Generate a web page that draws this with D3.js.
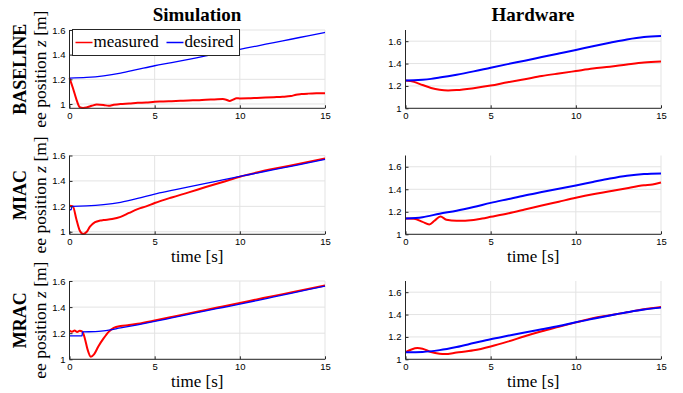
<!DOCTYPE html>
<html>
<head>
<meta charset="utf-8">
<script src="https://cdn.jsdelivr.net/npm/d3@7"></script>
<style>
	body { margin: 0; background: #fff; }
	svg text { fill: #000; }
</style>
</head>
<body>
<div id="chart"></div>
<script>
// ---- data ----
var rowNames = ['BASELINE', 'MIAC', 'MRAC'];
var colNames = ['Simulation', 'Hardware'];
var xTicks = [0, 5, 10, 15];
var yTicks = [1, 1.2, 1.4, 1.6];

// Simulation / BASELINE
var simBaseMeasT = [0, 0.2, 0.4, 0.6, 0.8, 1.0, 1.3, 1.6, 2.0, 2.3, 2.6, 3, 3.5, 4, 4.5, 5, 5.5, 6, 6.5, 7, 7.5, 8, 8.5, 9, 9.2, 9.4, 9.6, 9.8, 10, 10.5, 11, 11.5, 12, 12.5, 13, 13.3, 13.6, 14, 14.5, 15];
var simBaseMeas = [1.21, 1.13, 1.04, 0.975, 0.968, 0.972, 0.985, 0.996, 0.992, 0.985, 0.993, 1.0, 1.004, 1.01, 1.012, 1.018, 1.02, 1.023, 1.026, 1.029, 1.03, 1.035, 1.037, 1.04, 1.035, 1.025, 1.035, 1.046, 1.045, 1.046, 1.049, 1.052, 1.055, 1.058, 1.064, 1.075, 1.08, 1.084, 1.087, 1.088];
var simBaseDesT = [0, 1, 2, 3, 4, 5, 6, 7, 8, 9, 10, 11, 12, 13, 14, 15];
var simBaseDes = [1.21, 1.215, 1.228, 1.25, 1.28, 1.31, 1.335, 1.362, 1.39, 1.416, 1.443, 1.47, 1.498, 1.525, 1.553, 1.58];

// Hardware / BASELINE
var hwBaseT = [0, 0.5, 1, 1.5, 2, 2.5, 3, 4, 5, 6, 7, 8, 9, 10, 11, 12, 13, 14, 15];
var hwBaseMeas = [1.248, 1.236, 1.208, 1.182, 1.166, 1.16, 1.163, 1.18, 1.203, 1.233, 1.26, 1.288, 1.311, 1.333, 1.355, 1.372, 1.392, 1.41, 1.419];
var hwBaseDes = [1.248, 1.25, 1.255, 1.263, 1.275, 1.287, 1.3, 1.33, 1.363, 1.395, 1.426, 1.458, 1.49, 1.522, 1.555, 1.586, 1.616, 1.638, 1.647];

// Simulation / MIAC
var simMiacMeasT = [0, 0.2, 0.4, 0.6, 0.8, 1.0, 1.2, 1.5, 1.8, 2.0, 2.5, 3, 3.5, 4, 4.5, 5, 6, 7, 8, 9, 10, 11, 12, 13, 14, 15];
var simMiacMeas = [1.205, 1.2, 1.1, 1.01, 0.982, 0.998, 1.04, 1.075, 1.088, 1.092, 1.1, 1.117, 1.148, 1.178, 1.2, 1.226, 1.27, 1.31, 1.352, 1.392, 1.433, 1.466, 1.495, 1.522, 1.549, 1.576];
var simMiacDesT = [0, 0.1, 0.15, 1, 2, 3, 4, 5, 6, 7, 8, 9, 10, 11, 12, 13, 14, 15];
var simMiacDes = [1.173, 1.175, 1.2, 1.203, 1.213, 1.232, 1.262, 1.297, 1.325, 1.353, 1.38, 1.408, 1.435, 1.462, 1.489, 1.515, 1.542, 1.569];

// Hardware / MIAC
var hwMiacMeasT = [0, 0.5, 1, 1.4, 1.7, 2.05, 2.4, 3, 4, 4.5, 5, 6, 7, 8, 9, 10, 11, 12, 13, 14, 14.5, 15];
var hwMiacMeas = [1.14, 1.138, 1.11, 1.088, 1.12, 1.158, 1.13, 1.12, 1.128, 1.14, 1.155, 1.185, 1.22, 1.256, 1.29, 1.324, 1.355, 1.382, 1.41, 1.435, 1.443, 1.46];
var hwMiacDesT = [0, 1, 2, 3, 4, 5, 6, 7, 8, 9, 10, 11, 12, 13, 14, 15];
var hwMiacDes = [1.14, 1.152, 1.183, 1.21, 1.243, 1.279, 1.312, 1.345, 1.375, 1.405, 1.434, 1.465, 1.495, 1.52, 1.536, 1.541];

// Simulation / MRAC
var simMracMeasT = [0, 0.15, 0.3, 0.45, 0.6, 0.75, 0.9, 1.05, 1.25, 1.45, 1.7, 2.0, 2.3, 2.6, 3, 3.5, 4, 5, 6, 7, 8, 9, 10, 11, 12, 13, 14, 15];
var simMracMeas = [1.22, 1.212, 1.22, 1.21, 1.218, 1.212, 1.16, 1.08, 1.02, 1.04, 1.1, 1.16, 1.21, 1.24, 1.255, 1.262, 1.272, 1.297, 1.324, 1.352, 1.378, 1.405, 1.432, 1.459, 1.486, 1.512, 1.539, 1.565];
var simMracDesT = [0, 0.74, 0.76, 1.5, 2, 3, 4, 5, 6, 7, 8, 9, 10, 11, 12, 13, 14, 15];
var simMracDes = [1.18, 1.18, 1.21, 1.212, 1.218, 1.24, 1.264, 1.29, 1.317, 1.344, 1.371, 1.397, 1.423, 1.45, 1.478, 1.506, 1.534, 1.561];

// Hardware / MRAC
var hwMracMeasT = [0, 0.35, 0.7, 1.0, 1.5, 2.0, 2.3, 3, 4, 5, 6, 7, 8, 9, 10, 11, 12, 13, 14, 15];
var hwMracMeas = [1.063, 1.088, 1.1, 1.094, 1.065, 1.05, 1.047, 1.06, 1.08, 1.115, 1.158, 1.206, 1.25, 1.29, 1.33, 1.368, 1.393, 1.42, 1.448, 1.468];
var hwMracDesT = [0, 1, 2, 3, 4, 5, 6, 7, 8, 9, 10, 11, 12, 13, 14, 15];
var hwMracDes = [1.063, 1.066, 1.082, 1.11, 1.145, 1.18, 1.21, 1.24, 1.268, 1.297, 1.331, 1.362, 1.392, 1.42, 1.445, 1.462];

var legendLabels = ['measured', 'desired'];

// ---- layout ----
var width = 683, height = 393;
var cols = [{ x0: 69.5, x1: 325 }, { x0: 405.5, x1: 661 }];
var rows = [{ top: 30, bottom: 108.3 }, { top: 155.5, bottom: 234.3 }, { top: 281, bottom: 359.3 }];
var red = '#ff0000', blue = '#0000ff';
var serif = '"Liberation Serif", "Times New Roman", serif';
var sans = '"Liberation Sans", Arial, sans-serif';

var panels = [
	{ row: 0, col: 0, yDomain: [0.965, 1.6], series: [[simBaseMeasT, simBaseMeas], [simBaseDesT, simBaseDes]] },
	{ row: 0, col: 1, yDomain: [1, 1.7], series: [[hwBaseT, hwBaseMeas], [hwBaseT, hwBaseDes]] },
	{ row: 1, col: 0, yDomain: [0.98, 1.6], series: [[simMiacMeasT, simMiacMeas], [simMiacDesT, simMiacDes]] },
	{ row: 1, col: 1, yDomain: [1, 1.7], series: [[hwMiacMeasT, hwMiacMeas], [hwMiacDesT, hwMiacDes]] },
	{ row: 2, col: 0, yDomain: [1, 1.6], series: [[simMracMeasT, simMracMeas], [simMracDesT, simMracDes]] },
	{ row: 2, col: 1, yDomain: [1, 1.7], series: [[hwMracMeasT, hwMracMeas], [hwMracDesT, hwMracDes]] }
];

var svg = d3.select('#chart').append('svg')
	.attr('width', width)
	.attr('height', height);

panels.forEach(function(p) {
	var c = cols[p.col], r = rows[p.row];
	var x = d3.scaleLinear().domain([0, 15]).range([c.x0, c.x1]);
	var y = d3.scaleLinear().domain(p.yDomain).range([r.bottom, r.top]);
	var g = svg.append('g');

	// grid
	g.selectAll('line.gx').data(xTicks.filter(function(t) { return t > 0; })).enter().append('line')
		.attr('x1', x).attr('x2', x).attr('y1', r.top).attr('y2', r.bottom)
		.attr('stroke', '#e3e3e3').attr('stroke-width', 1);
	g.selectAll('line.gy').data(yTicks).enter().append('line')
		.attr('x1', c.x0).attr('x2', c.x1).attr('y1', y).attr('y2', y)
		.attr('stroke', '#e3e3e3').attr('stroke-width', 1);

	// curves: measured first, desired on top
	var isSim = p.col === 0;
	p.series.forEach(function(s, i) {
		var pts = s[0].map(function(t, k) { return [t, s[1][k]]; });
		var line = d3.line()
			.x(function(d) { return x(d[0]); })
			.y(function(d) { return y(d[1]); })
			.curve(d3.curveMonotoneX);
		g.append('path')
			.attr('d', line(pts))
			.attr('fill', 'none')
			.attr('stroke', i === 0 ? red : blue)
			.attr('stroke-width', i === 0 ? 2 : (isSim ? 1.3 : 2))
			.attr('stroke-linejoin', 'round');
	});

	// axes
	var xAxis = d3.axisBottom(x).tickValues(xTicks).tickSize(-3).tickPadding(4);
	var yAxis = d3.axisLeft(y).tickValues(yTicks).tickSize(-3).tickPadding(4)
		.tickFormat(function(d) { return d === 1 ? '1' : d3.format('.1f')(d); });
	var gx = g.append('g').attr('transform', 'translate(0,' + r.bottom + ')').call(xAxis);
	var gy = g.append('g').attr('transform', 'translate(' + c.x0 + ',0)').call(yAxis);
	[gx, gy].forEach(function(a) {
		a.select('.domain').remove();
		a.selectAll('.tick line').attr('stroke', '#262626');
		a.selectAll('.tick text').attr('fill', '#262626')
			.style('font-family', sans).style('font-size', '9.5px');
	});
	g.append('path')
		.attr('d', 'M' + c.x0 + ',' + r.top + 'V' + r.bottom + 'H' + c.x1)
		.attr('fill', 'none').attr('stroke', '#262626').attr('stroke-width', 1);

	// x label on lower rows
	if (p.row > 0) {
		g.append('text')
			.attr('x', (c.x0 + c.x1) / 2)
			.attr('y', r.bottom + 27.5)
			.attr('text-anchor', 'middle')
			.style('font-family', serif).style('font-size', '17px')
			.text('time [s]');
	}
	// y labels on left column
	if (p.col === 0) {
		var cy = (r.top + r.bottom) / 2;
		var yl = g.append('text')
			.attr('transform', 'translate(46,' + cy + ') rotate(-90)')
			.attr('text-anchor', 'middle')
			.style('font-family', serif).style('font-size', '17.5px');
		yl.append('tspan').text('ee position ');
		yl.append('tspan').style('font-style', 'italic').text('z');
		yl.append('tspan').text(' [m]');
		g.append('text')
			.attr('transform', 'translate(26,' + cy + ') rotate(-90)')
			.attr('text-anchor', 'middle')
			.style('font-family', serif).style('font-size', '18px').style('font-weight', 'bold')
			.text(rowNames[p.row]);
	}
});

// column titles
colNames.forEach(function(name, i) {
	svg.append('text')
		.attr('x', i === 0 ? 197 : 533)
		.attr('y', 21)
		.attr('text-anchor', 'middle')
		.style('font-family', serif).style('font-size', '19px').style('font-weight', 'bold')
		.text(name);
});

// legend in the first panel
var lg = svg.append('g').attr('transform', 'translate(72.5,29.5)');
lg.append('rect').attr('width', 167).attr('height', 26)
	.attr('fill', '#fff').attr('stroke', '#262626').attr('stroke-width', 1);
var legendItems = [{ label: legendLabels[0], color: red, x: 3 }, { label: legendLabels[1], color: blue, x: 94 }];
legendItems.forEach(function(it) {
	lg.append('line').attr('x1', it.x).attr('x2', it.x + 17).attr('y1', 13).attr('y2', 13)
		.attr('stroke', it.color).attr('stroke-width', 1.5);
	lg.append('text').attr('x', it.x + 18).attr('y', 17.5)
		.style('font-family', serif).style('font-size', '17px')
		.text(it.label);
});
</script>
</body>
</html>
